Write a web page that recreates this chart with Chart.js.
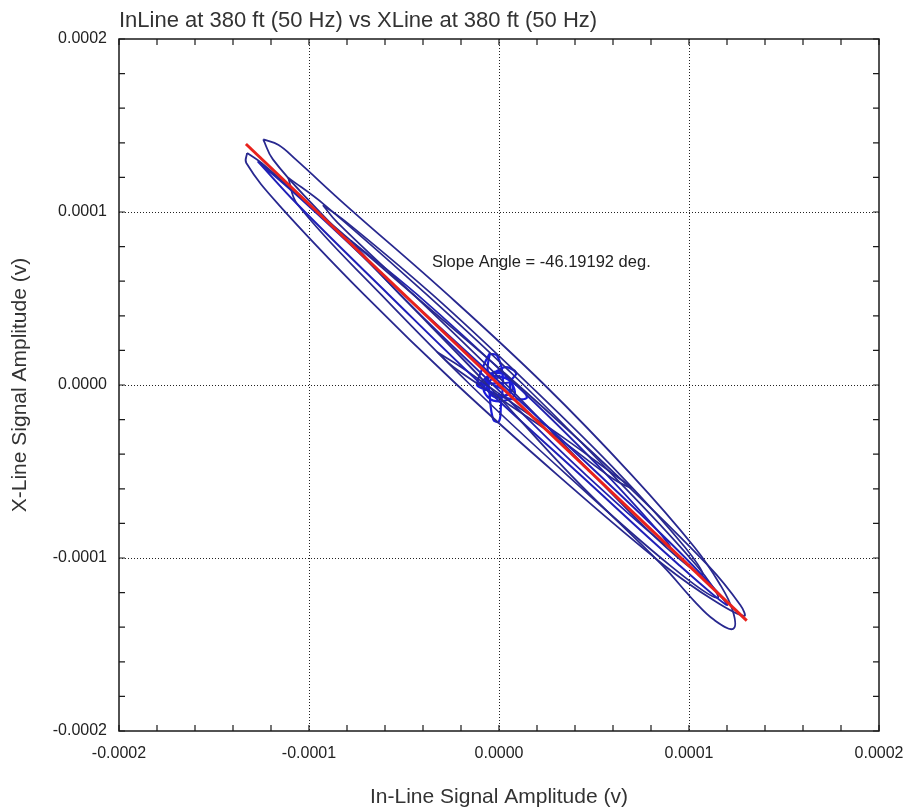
<!DOCTYPE html>
<html>
<head>
<meta charset="utf-8">
<script src="https://cdn.jsdelivr.net/npm/chart.js@4.4.1/dist/chart.umd.min.js"></script>
<style>
  html, body { margin: 0; padding: 0; background: #fff; }
  #wrap { width: 907px; height: 811px; }
</style>
</head>
<body>
<div id="wrap"><canvas id="orbit"></canvas></div>
<script>
// axis range and ticks (volts)
var axisMin = -0.0002, axisMax = 0.0002, minorStep = 0.00002;

// regression line end points
var fitX = [-1.332e-4, 1.304e-4];
var fitY = [1.393e-4, -1.362e-4];

// orbit loops
var loopAx = [-1.241e-4, -1.16e-4, -1.07e-4, -0.81e-4, -0.27e-4, 0.24e-4, 0.70e-4, 1.03e-4, 1.16e-4, 1.23e-4, 1.232e-4, 1.13e-4, 1.03e-4, 0.86e-4, 0.38e-4, -0.06e-4, -0.52e-4, -0.98e-4, -1.19e-4, -1.241e-4];
var loopAy = [1.420e-4, 1.387e-4, 1.304e-4, 1.043e-4, 0.522e-4, 0, -0.522e-4, -0.939e-4, -1.147e-4, -1.304e-4, -1.410e-4, -1.356e-4, -1.252e-4, -1.043e-4, -0.522e-4, 0, 0.522e-4, 1.043e-4, 1.304e-4, 1.420e-4];

var loopBx = [-1.326e-4, -1.33e-4, -1.16e-4, -0.71e-4, -0.22e-4, 0.31e-4, 0.87e-4, 1.14e-4, 1.29e-4, 1.27e-4, 1.10e-4, 0.62e-4, 0.10e-4, -0.45e-4, -1.00e-4, -1.25e-4, -1.326e-4];
var loopBy = [1.341e-4, 1.283e-4, 1.043e-4, 0.522e-4, 0, -0.522e-4, -1.043e-4, -1.252e-4, -1.335e-4, -1.272e-4, -1.043e-4, -0.522e-4, 0, 0.522e-4, 1.043e-4, 1.283e-4, 1.341e-4];

var loopCx = [-1.27e-4, -1.06e-4, -0.58e-4, -0.09e-4, 0.43e-4, 0.95e-4, 1.20e-4, 1.02e-4, 0.53e-4, 0.02e-4, -0.50e-4, -1.01e-4, -1.27e-4];
var loopCy = [1.293e-4, 1.043e-4, 0.522e-4, 0, -0.522e-4, -1.043e-4, -1.272e-4, -1.043e-4, -0.522e-4, 0, 0.522e-4, 1.043e-4, 1.293e-4];

var loopDx = [-0.927e-4, -0.80e-4, -0.35e-4, 0.16e-4, 0.64e-4, 0.98e-4, 1.07e-4, 0.88e-4, 0.50e-4, 0.04e-4, -0.45e-4, -0.85e-4, -0.927e-4];
var loopDy = [1.040e-4, 0.939e-4, 0.522e-4, 0, -0.522e-4, -0.939e-4, -1.095e-4, -0.939e-4, -0.522e-4, 0, 0.522e-4, 0.939e-4, 1.040e-4];

var loopEx = [-0.326e-4, -0.20e-4, 0.07e-4, 0.35e-4, 0.61e-4, 0.70e-4, 0.60e-4, 0.32e-4, 0.04e-4, -0.24e-4, -0.326e-4];
var loopEy = [0.191e-4, 0.104e-4, -0.104e-4, -0.313e-4, -0.522e-4, -0.595e-4, -0.542e-4, -0.313e-4, -0.104e-4, 0.104e-4, 0.191e-4];

var loopFx = [-1.11e-4, -0.92e-4, -0.38e-4, 0.13e-4, 0.60e-4, 1.04e-4, 1.15e-4, 0.90e-4, 0.36e-4, -0.15e-4, -0.62e-4, -1.06e-4, -1.11e-4];
var loopFy = [1.199e-4, 1.043e-4, 0.522e-4, 0, -0.522e-4, -1.043e-4, -1.231e-4, -1.043e-4, -0.522e-4, 0, 0.522e-4, 1.043e-4, 1.199e-4];

var loopGx = [-0.78e-4, -0.43e-4, 0.09e-4, 0.57e-4, 0.90e-4, 0.46e-4, -0.03e-4, -0.52e-4, -0.78e-4];
var loopGy = [0.834e-4, 0.522e-4, 0, -0.522e-4, -0.939e-4, -0.522e-4, 0, 0.522e-4, 0.834e-4];

// small rosette around the origin
var rosetteX = [-0.05e-4, -0.01e-4, 0.02e-4, 0.01e-4, 0.00e-4, -0.03e-4, -0.05e-4, -0.06e-4, -0.05e-4, -0.116e-4, -0.05e-4, 0.05e-4, 0.147e-4, 0.06e-4, -0.04e-4, -0.116e-4, -0.02e-4, 0.06e-4, 0.00e-4, -0.07e-4, -0.02e-4, 0.07e-4, 0.03e-4, -0.06e-4, -0.04e-4, 0.05e-4, 0.06e-4, 0.09e-4, 0.02e-4, -0.08e-4, -0.03e-4, 0.08e-4, 0.04e-4, -0.05e-4, 0.03e-4];
var rosetteY = [0.18e-4, 0.17e-4, 0.05e-4, -0.12e-4, -0.21e-4, -0.20e-4, -0.05e-4, 0.10e-4, 0.18e-4, 0.00e-4, 0.05e-4, 0.03e-4, -0.07e-4, -0.08e-4, -0.04e-4, 0.00e-4, 0.01e-4, 0.02e-4, 0.08e-4, 0.03e-4, -0.07e-4, -0.03e-4, 0.06e-4, 0.05e-4, -0.06e-4, -0.05e-4, 0.02e-4, 0.07e-4, 0.10e-4, -0.01e-4, -0.09e-4, -0.06e-4, 0.04e-4, 0.02e-4, -0.03e-4];

var chartTitle = 'InLine at 380 ft (50 Hz) vs XLine at 380 ft (50 Hz)';
var xTitle = 'In-Line Signal Amplitude (v)';
var yTitle = 'X-Line Signal Amplitude (v)';
var noteText = 'Slope Angle = -46.19192 deg.';
var noteAt = [-0.353e-4, 0.711e-4];

function pts(xs, ys) {
    var out = [];
    for (var i = 0; i < xs.length; i++) {
        out.push({ x: xs[i], y: ys[i] });
    }
    return out;
}

function loop(xs, ys, color, width) {
    return {
        data: pts(xs, ys),
        showLine: true,
        borderColor: color,
        borderWidth: width,
        pointRadius: 0,
        tension: 0.4,
        order: 2
    };
}

var FONT = "'Liberation Sans', Arial, sans-serif";
var navy = '#28288f';

function gridColor(c) {
    var k = Math.round(c.tick.value / minorStep);
    if (k % 5 === 0 && Math.abs(k) !== 10) return '#222';
    return 'rgba(0,0,0,0)';
}

function tickLabel(v) {
    var k = Math.round(v / minorStep);
    if (k % 5 !== 0) return '';
    return (k * minorStep).toFixed(4);
}

// frame, inward tick marks and the slope note
var frameTicks = {
    id: 'frameTicks',
    afterDatasetsDraw: function (chart) {
        var ctx = chart.ctx, a = chart.chartArea;
        var xs = chart.scales.x, ys = chart.scales.y;
        ctx.save();
        ctx.strokeStyle = '#1a1a1a';
        ctx.lineWidth = 1.5;
        ctx.strokeRect(a.left, a.top, a.right - a.left, a.bottom - a.top);
        ctx.lineWidth = 1.2;
        ctx.beginPath();
        xs.ticks.forEach(function (t) {
            var px = xs.getPixelForValue(t.value);
            ctx.moveTo(px, a.bottom); ctx.lineTo(px, a.bottom - 6);
            ctx.moveTo(px, a.top); ctx.lineTo(px, a.top + 6);
        });
        ys.ticks.forEach(function (t) {
            var py = ys.getPixelForValue(t.value);
            ctx.moveTo(a.left, py); ctx.lineTo(a.left + 6, py);
            ctx.moveTo(a.right, py); ctx.lineTo(a.right - 6, py);
        });
        ctx.stroke();

        ctx.fillStyle = '#222';
        ctx.font = '16.5px ' + FONT;
        ctx.textAlign = 'left';
        ctx.textBaseline = 'middle';
        ctx.fillText(noteText, xs.getPixelForValue(noteAt[0]), ys.getPixelForValue(noteAt[1]));
        ctx.restore();
    }
};

var datasets = [
    {
        data: pts(fitX, fitY),
        showLine: true,
        borderColor: '#e8221c',
        borderWidth: 3,
        pointRadius: 0,
        order: 0
    },
    loop(loopAx, loopAy, navy, 1.8),
    loop(loopBx, loopBy, navy, 1.8),
    loop(loopCx, loopCy, '#2020b8', 2),
    loop(loopDx, loopDy, navy, 1.7),
    loop(loopEx, loopEy, navy, 1.7),
    loop(loopFx, loopFy, navy, 1.7),
    loop(loopGx, loopGy, '#2222b0', 1.8),
    loop(rosetteX, rosetteY, '#1c1cdc', 2.2)
];

function axis(titleText, isY) {
    return {
        type: 'linear',
        min: axisMin,
        max: axisMax,
        afterFit: function (s) {
            if (isY) {
                s.width = 119;
            } else {
                s.height = 80;
                s.paddingLeft = 0;
                s.paddingRight = 0;
            }
        },
        border: { display: false, dash: [1, 2] },
        grid: { color: gridColor, lineWidth: 1, drawTicks: false },
        ticks: {
            stepSize: minorStep,
            autoSkip: false,
            maxRotation: 0,
            padding: isY ? 12 : 13,
            color: '#222',
            font: { family: FONT, size: 16 },
            callback: tickLabel
        },
        title: {
            display: true,
            text: titleText,
            color: '#333',
            font: { family: FONT, size: 21 },
            padding: isY ? { top: 7.4, bottom: 0 } : { top: 0, bottom: 1.4 }
        }
    };
}

new Chart(document.getElementById('orbit'), {
    type: 'scatter',
    data: { datasets: datasets },
    options: {
        responsive: true,
        maintainAspectRatio: false,
        animation: false,
        layout: { padding: { left: 0, right: 28, top: 3, bottom: 0 } },
        plugins: {
            legend: { display: false },
            tooltip: { enabled: false },
            title: {
                display: true,
                text: chartTitle,
                align: 'start',
                fullSize: false,
                color: '#333',
                font: { family: FONT, size: 22, weight: 'normal' },
                padding: { top: 4.8, bottom: 4.8 }
            }
        },
        scales: {
            x: axis(xTitle, false),
            y: axis(yTitle, true)
        }
    },
    plugins: [frameTicks]
});
</script>
</body>
</html>
